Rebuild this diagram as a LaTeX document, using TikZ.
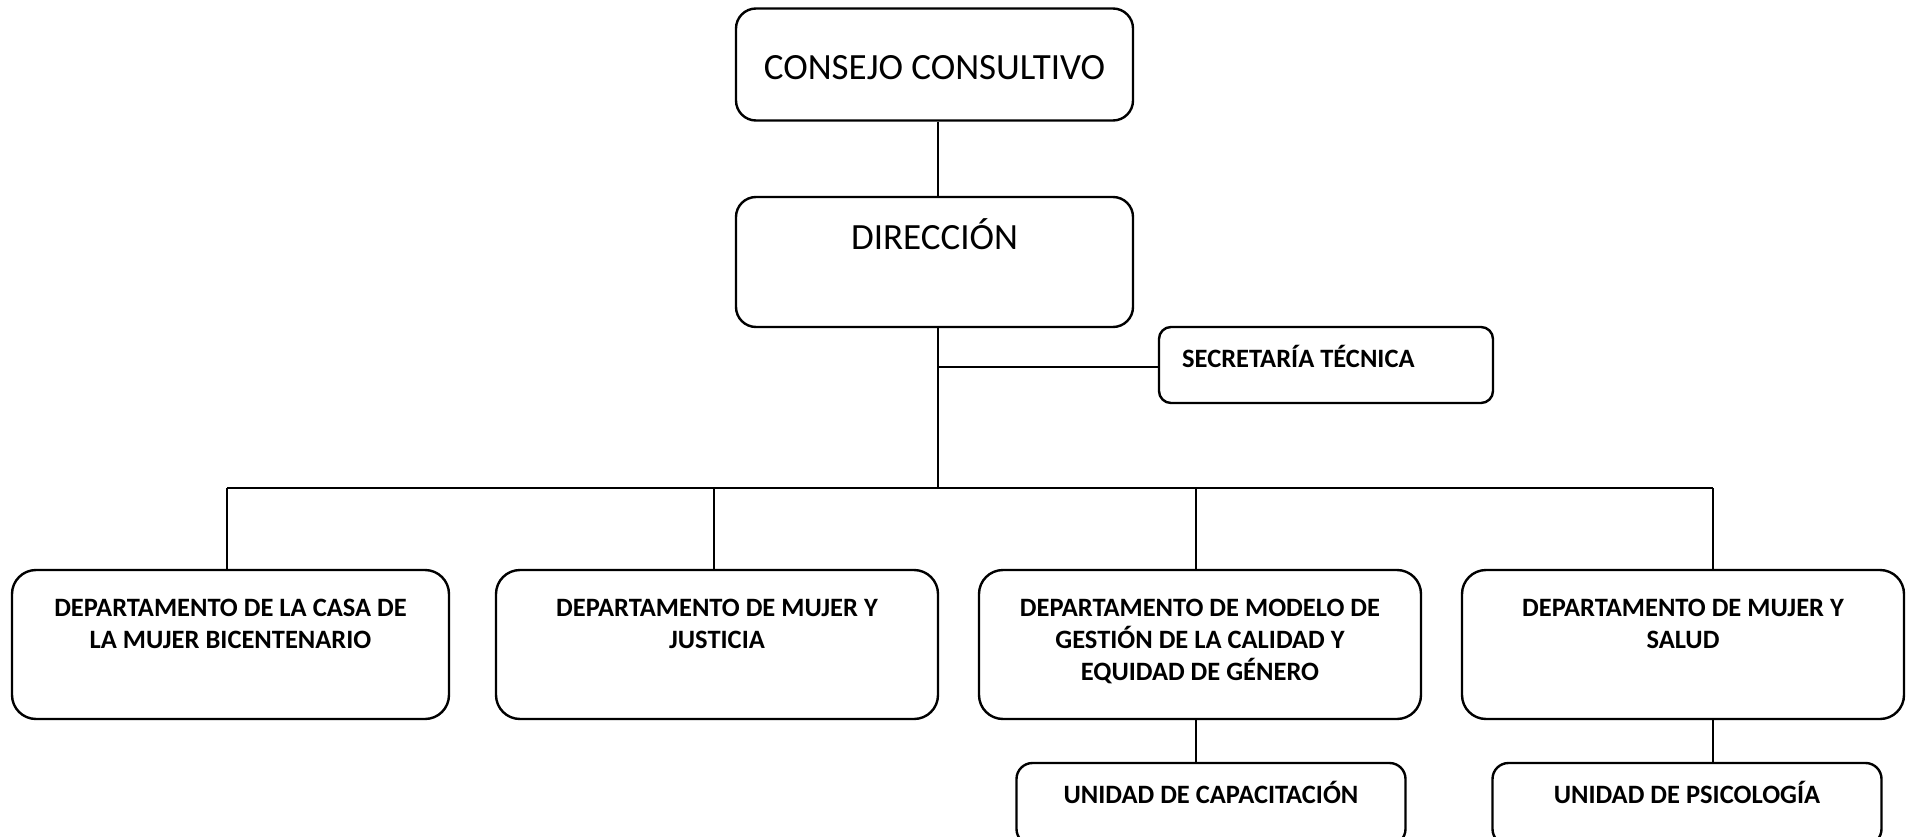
\documentclass[tikz,border=0pt]{standalone}
\usepackage{fontspec}
\setmainfont{Carlito}
\begin{document}
\begin{tikzpicture}[x=1pt,y=-1pt,
  box/.style={draw=black, line width=2.4pt, rounded corners=#1, inner sep=0pt},
  box/.default=24pt,
  link/.style={draw=black, line width=2pt},
  bigtxt/.style={font=\fontsize{37}{44}\selectfont, inner sep=0pt, anchor=base},
  bt/.style={font=\fontsize{26.5}{32}\selectfont\bfseries, inner sep=0pt, align=center, anchor=north},
  ut/.style={font=\fontsize{26.5}{32}\selectfont\bfseries, inner sep=0pt, anchor=base},
]
\fill[white] (0,0) rectangle (1914,837);
\useasboundingbox (0,0) rectangle (1914,837);
\clip (0,0) rectangle (1914,837);

% boxes
\node[box=20pt, minimum width=397pt, minimum height=112pt] (cc) at (934.5,64.5) {};
\node[bigtxt] (cct) at (934.5,80) {CONSEJO CONSULTIVO};
\node[box=20pt, minimum width=397pt, minimum height=130pt] (dir) at (934.5,262) {};
\node[bigtxt] (dirt) at (934.5,250) {DIRECCIÓN};
\node[box=12pt, minimum width=334pt, minimum height=76pt] (sec) at (1326,365) {};
\node[ut, anchor=base west] (sect) at (1182,367) {SECRETARÍA TÉCNICA};

\node[box, minimum width=437pt, minimum height=149pt] (d1) at (230.5,644.5) {};
\node[bt] (d1t) at (230.5,594) {\strut DEPARTAMENTO DE LA CASA DE\\LA MUJER BICENTENARIO};
\node[box, minimum width=442pt, minimum height=149pt] (d2) at (717,644.5) {};
\node[bt] (d2t) at (717,594) {\strut DEPARTAMENTO DE MUJER Y\\JUSTICIA};
\node[box, minimum width=442pt, minimum height=149pt] (d3) at (1200,644.5) {};
\node[bt] (d3t) at (1200,594) {\strut DEPARTAMENTO DE MODELO DE\\GESTIÓN DE LA CALIDAD Y\\EQUIDAD DE GÉNERO};
\node[box, minimum width=442pt, minimum height=149pt] (d4) at (1683,644.5) {};
\node[bt] (d4t) at (1683,594) {\strut DEPARTAMENTO DE MUJER Y\\SALUD};

\node[box=16pt, minimum width=389pt, minimum height=82pt] (u1) at (1211,804) {};
\node[ut] (u1t) at (1211,803) {UNIDAD DE CAPACITACIÓN};
\node[box=16pt, minimum width=389pt, minimum height=82pt] (u2) at (1687,804) {};
\node[ut] (u2t) at (1687,803) {UNIDAD DE PSICOLOGÍA};

% connectors
\coordinate (t) at (938,488);
\coordinate (sj) at (938,367);
\coordinate (b1) at (227,488);
\coordinate (b2) at (714,488);
\coordinate (b3) at (1196,488);
\coordinate (b4) at (1713,488);
\draw[link] (t |- cc.south) -- (t |- dir.north);
\draw[link] (t |- dir.south) -- (t);
\draw[link] (sj) -- (sj -| sec.west);
\draw[link] (b1) -- (b4);
\draw[link] (b1) -- (b1 |- d1.north);
\draw[link] (b2) -- (b2 |- d2.north);
\draw[link] (b3) -- (b3 |- d3.north);
\draw[link] (b4) -- (b4 |- d4.north);
\draw[link] (b3 |- d3.south) -- (b3 |- u1.north);
\draw[link] (b4 |- d4.south) -- (b4 |- u2.north);
\end{tikzpicture}
\end{document}
